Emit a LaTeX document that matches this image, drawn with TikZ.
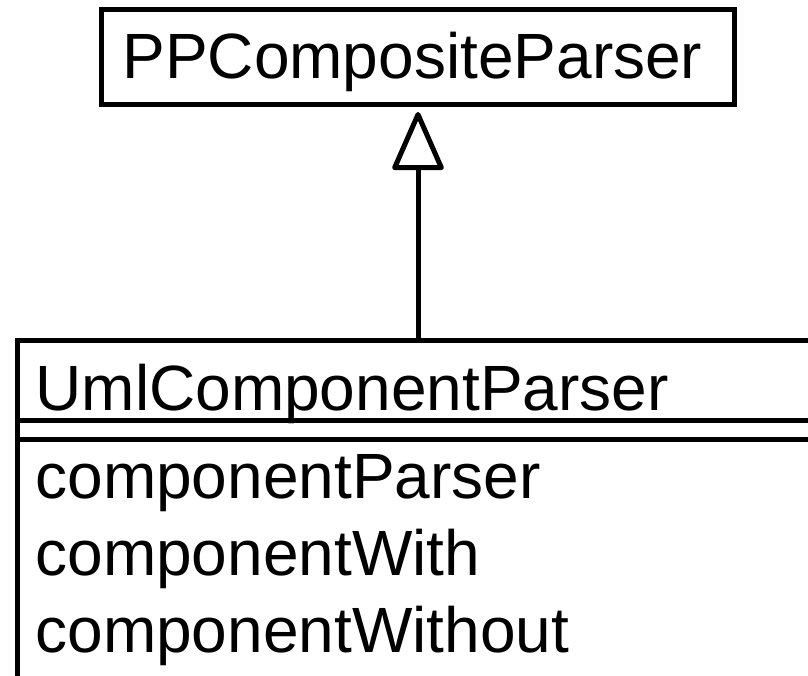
\documentclass[tikz,border=0pt]{standalone}
\usepackage{fontspec}
\setmainfont{Liberation Sans}
\usetikzlibrary{arrows.meta}
\begin{document}
\begin{tikzpicture}[x=1pt, y=-1pt, line width=5pt,
  classbox/.style={draw, line width=5pt, inner sep=0pt, line join=miter},
  classtext/.style={anchor=base west, inner sep=0pt, font=\fontsize{64}{64}\selectfont},
  inherits/.style={line width=5pt, line join=round,
    -{Triangle[open, length=62pt, width=53pt, line join=round]}, shorten >=5.5pt}]
\useasboundingbox (0,0) rectangle (808,675);
\clip (0,0) rectangle (808,675);

% superclass
\node[classbox, minimum width=632.5pt, minimum height=94.5pt] (super) at (417.75,56.75) {};
\node[classtext] (superName) at (120,78) {PPCompositeParser};

% subclass: its right and bottom edges run past the page
\node[classbox, anchor=north west, minimum width=900pt, minimum height=400pt] (sub) at (15,337.5) {};
\coordinate (sepA west) at (15,420);
\coordinate (sepB west) at (15,439);
\draw[line width=5pt] (sepA west) -- (sepA west -| sub.east);
\draw[line width=5pt] (sepB west) -- (sepB west -| sub.east);
\node[classtext] (subName) at (33,410) {UmlComponentParser};
\node[classtext] (attrA) at (33,498) {componentParser};
\node[classtext] (attrB) at (33,575) {componentWith};
\node[classtext] (attrC) at (33,652) {componentWithout};

% generalization
\draw[inherits] (sub.north -| 418,0) -- (super.south -| 418,0);
\end{tikzpicture}
\end{document}
